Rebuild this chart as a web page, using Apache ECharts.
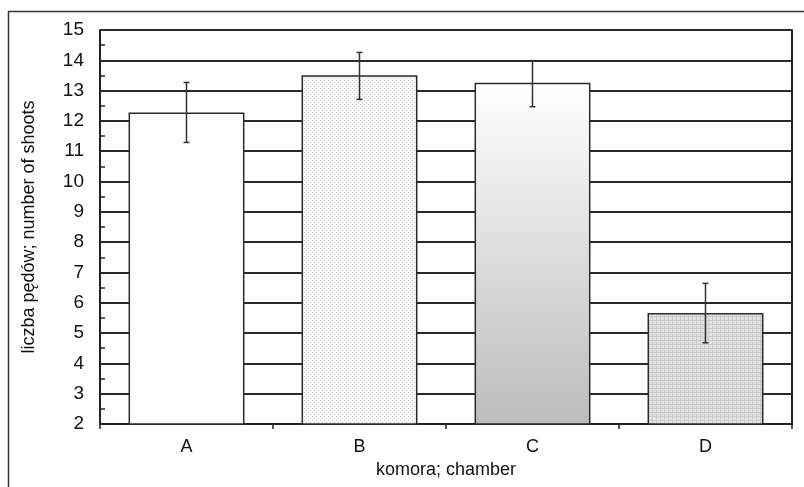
<!DOCTYPE html>
<html><head><meta charset="utf-8">
<script src="https://cdn.jsdelivr.net/npm/echarts@6/dist/echarts.min.js"></script>
<style>html,body{margin:0;padding:0;background:#fff}#c{width:804px;height:487px}</style>
</head><body><div id="c"></div>
<script>
const categories = ['A', 'B', 'C', 'D'];
const means = [12.28, 13.51, 13.26, 5.66];
const errTop = [13.27, 14.26, 13.99, 6.64];
const errBottom = [11.29, 12.71, 12.47, 4.68];
const yTicks = [2, 15, 1];

function pattern(kind) {
  const c = document.createElement('canvas');
  c.width = 4; c.height = 4;
  const g = c.getContext('2d');
  g.fillStyle = kind === 'dots' ? '#f6f6f6' : '#e2e2e2';
  g.fillRect(0, 0, 4, 4);
  if (kind === 'dots') {
    g.fillStyle = '#d4d4d4';
    g.fillRect(0, 0, 1, 1);
    g.fillRect(2, 2, 1, 1);
  } else {
    g.fillStyle = '#cbcbcb';
    g.fillRect(0, 0, 4, 1);
    g.fillRect(0, 0, 1, 4);
  }
  return c;
}

const fills = [
  '#ffffff',
  { image: pattern('dots'), repeat: 'repeat' },
  new echarts.graphic.LinearGradient(0, 0, 0, 1, [
    { offset: 0, color: '#ffffff' }, { offset: 1, color: '#bcbcbc' }
  ]),
  { image: pattern('grid'), repeat: 'repeat' }
];

const chart = echarts.init(document.getElementById('c'));
const font = 'Liberation Sans, Arial, sans-serif';
chart.setOption({
  animation: false,
  graphic: [{
    type: 'rect', shape: { x: 8.5, y: 11.5, width: 820, height: 500 },
    style: { fill: 'none', stroke: '#333', lineWidth: 1.5 }, z: -10
  }],
  grid: { left: 100, right: 12, top: 30, bottom: 63 },
  xAxis: {
    type: 'category', data: categories,
    name: 'komora; chamber', nameLocation: 'middle', nameGap: 34,
    nameTextStyle: { fontFamily: font, fontSize: 18, color: '#111' },
    axisLine: { lineStyle: { color: '#222', width: 2 } },
    axisTick: { show: true, length: 5, lineStyle: { color: '#222', width: 1.5 } },
    axisLabel: { fontFamily: font, fontSize: 18, color: '#111', margin: 14 }
  },
  yAxis: [{
    type: 'value', min: yTicks[0], max: yTicks[1], interval: yTicks[2],
    name: 'liczba pędów; number of shoots', nameLocation: 'middle', nameGap: 62,
    nameTextStyle: { fontFamily: font, fontSize: 18, color: '#111' },
    axisLine: { show: true, lineStyle: { color: '#222', width: 2 } },
    axisTick: { show: false, inside: true },
    minorTick: { show: true, splitNumber: 2, length: 5, lineStyle: { color: '#222', width: 1.5 } },
    axisLabel: { fontFamily: font, fontSize: 19, color: '#111', margin: 16 },
    splitLine: { show: true, lineStyle: { color: '#2a2a2a', width: 2 } }
  }, {
    type: 'value', min: yTicks[0], max: yTicks[1], interval: yTicks[2], position: 'right',
    axisLine: { show: true, lineStyle: { color: '#222', width: 2 } },
    axisTick: { show: false }, axisLabel: { show: false }, splitLine: { show: false }
  }],
  series: [{
    type: 'bar', barWidth: '67%',
    data: means.map((v, i) => ({ value: v, itemStyle: { color: fills[i] } })),
    itemStyle: { borderColor: '#2a2a2a', borderWidth: 1.5 }
  }, {
    type: 'custom', z: 5,
    data: categories.map((c, i) => [i, errBottom[i], errTop[i]]),
    renderItem: function (params, api) {
      const lo = api.coord([api.value(0), api.value(1)]);
      const hi = api.coord([api.value(0), api.value(2)]);
      const w = 3;
      const st = { stroke: '#333', lineWidth: 1.5 };
      return { type: 'group', children: [
        { type: 'line', shape: { x1: lo[0], y1: lo[1], x2: hi[0], y2: hi[1] }, style: st },
        { type: 'line', shape: { x1: lo[0] - w, y1: lo[1], x2: lo[0] + w, y2: lo[1] }, style: st },
        { type: 'line', shape: { x1: hi[0] - w, y1: hi[1], x2: hi[0] + w, y2: hi[1] }, style: st }
      ]};
    }
  }]
});
</script></body></html>
